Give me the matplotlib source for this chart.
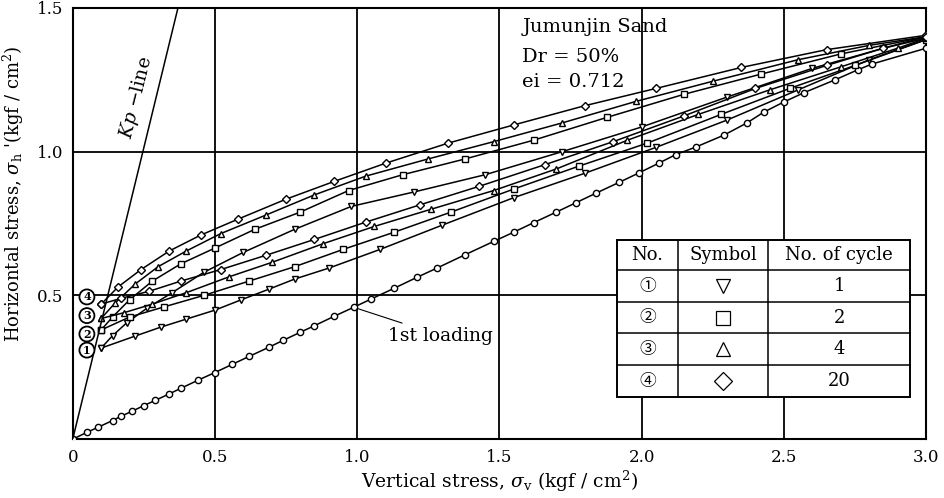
import matplotlib.pyplot as plt
from matplotlib.patches import Rectangle

plt.rcParams['font.family'] = ['DejaVu Serif']
plt.rcParams['mathtext.fontset'] = 'dejavuserif'

# first loading branch
load_x = [0, 0.05, 0.09, 0.14, 0.17, 0.21, 0.25, 0.29, 0.34, 0.38, 0.44, 0.50, 0.56,
          0.62, 0.69, 0.74, 0.80, 0.85, 0.92, 0.99, 1.05, 1.13, 1.21, 1.28, 1.38, 1.48,
          1.55, 1.62, 1.70, 1.77, 1.84, 1.92, 1.99, 2.06, 2.12, 2.19, 2.29, 2.37, 2.43,
          2.50, 2.57, 2.68, 2.76, 2.81, 3.0]
load_y = [0, 0.024, 0.042, 0.065, 0.08, 0.098, 0.117, 0.135, 0.158, 0.177, 0.205, 0.232,
          0.26, 0.288, 0.32, 0.344, 0.372, 0.395, 0.428, 0.46, 0.488, 0.525, 0.563, 0.595,
          0.642, 0.688, 0.72, 0.753, 0.79, 0.823, 0.856, 0.893, 0.926, 0.96, 0.99, 1.016,
          1.058, 1.10, 1.138, 1.173, 1.205, 1.25, 1.285, 1.305, 1.36]

# cycle 1
unload_1_x = [0.10, 0.14, 0.19, 0.26, 0.35, 0.46, 0.60, 0.78, 0.98, 1.20, 1.45, 1.72, 2.00, 2.30, 2.60, 2.85, 3.00]
unload_1_y = [0.317, 0.36, 0.405, 0.455, 0.51, 0.58, 0.65, 0.73, 0.81, 0.86, 0.92, 1.00, 1.086, 1.19, 1.29, 1.36, 1.395]
reload_1_x = [0.10, 0.22, 0.31, 0.40, 0.50, 0.59, 0.69, 0.78, 0.90, 1.08, 1.30, 1.55, 1.80, 2.05, 2.30, 2.55, 2.80, 3.00]
reload_1_y = [0.317, 0.359, 0.39, 0.418, 0.449, 0.484, 0.522, 0.557, 0.595, 0.66, 0.745, 0.84, 0.925, 1.015, 1.11, 1.215, 1.32, 1.39]

# cycle 2
unload_2_x = [0.10, 0.14, 0.20, 0.28, 0.38, 0.50, 0.64, 0.80, 0.97, 1.16, 1.38, 1.62, 1.88, 2.15, 2.42, 2.70, 3.00]
unload_2_y = [0.38, 0.425, 0.485, 0.55, 0.61, 0.665, 0.73, 0.79, 0.865, 0.92, 0.975, 1.04, 1.12, 1.20, 1.27, 1.34, 1.40]
reload_2_x = [0.10, 0.20, 0.32, 0.46, 0.62, 0.78, 0.95, 1.13, 1.33, 1.55, 1.78, 2.02, 2.28, 2.52, 2.75, 3.00]
reload_2_y = [0.38, 0.425, 0.46, 0.50, 0.55, 0.60, 0.66, 0.72, 0.79, 0.87, 0.95, 1.03, 1.13, 1.22, 1.30, 1.39]

# cycle 4
unload_4_x = [0.10, 0.15, 0.22, 0.30, 0.40, 0.52, 0.68, 0.85, 1.03, 1.25, 1.48, 1.72, 1.98, 2.25, 2.55, 2.80, 3.00]
unload_4_y = [0.42, 0.475, 0.54, 0.60, 0.655, 0.715, 0.78, 0.85, 0.915, 0.975, 1.035, 1.10, 1.175, 1.245, 1.32, 1.37, 1.40]
reload_4_x = [0.10, 0.18, 0.28, 0.40, 0.55, 0.70, 0.88, 1.06, 1.26, 1.48, 1.70, 1.95, 2.20, 2.45, 2.70, 2.90, 3.00]
reload_4_y = [0.42, 0.44, 0.47, 0.51, 0.565, 0.615, 0.68, 0.74, 0.80, 0.865, 0.94, 1.04, 1.13, 1.215, 1.295, 1.36, 1.395]

# cycle 20
unload_20_x = [0.10, 0.16, 0.24, 0.34, 0.45, 0.58, 0.75, 0.92, 1.10, 1.32, 1.55, 1.80, 2.05, 2.35, 2.65, 3.00]
unload_20_y = [0.47, 0.53, 0.59, 0.655, 0.71, 0.765, 0.835, 0.897, 0.96, 1.03, 1.093, 1.16, 1.22, 1.293, 1.355, 1.405]
reload_20_x = [0.10, 0.17, 0.27, 0.38, 0.52, 0.68, 0.85, 1.03, 1.22, 1.43, 1.66, 1.90, 2.15, 2.40, 2.65, 2.85, 3.00]
reload_20_y = [0.47, 0.49, 0.515, 0.55, 0.59, 0.64, 0.695, 0.755, 0.815, 0.88, 0.955, 1.035, 1.125, 1.22, 1.30, 1.36, 1.40]

# Kp line
kp_x = [0, 0.37]
kp_y = [0, 1.5]

# table contents
table_no = ['①', '②', '③', '④']
table_markers = ['v', 's', '^', 'D']
table_cycles = ['1', '2', '4', '20']
start_labels = ['1', '2', '3', '4']
start_label_y = [0.31, 0.366, 0.43, 0.495]

x_ticks = [0, 0.5, 1.0, 1.5, 2.0, 2.5, 3.0]
x_ticklabels = ['0', '0.5', '1.0', '1.5', '2.0', '2.5', '3.0']
y_ticks = [0.5, 1.0, 1.5]
y_ticklabels = ['0.5', '1.0', '1.5']

fig = plt.figure(figsize=(9.44, 4.98), dpi=100)
ax = fig.add_axes([0.077, 0.118, 0.904, 0.866])

line_kw = dict(color='black', lw=1.1, ms=4.5, mfc='white', mec='black', mew=1.0, zorder=3)

ax.plot(load_x, load_y, marker='o', **line_kw)

branches = [
    (unload_1_x, unload_1_y, reload_1_x, reload_1_y, 'v'),
    (unload_2_x, unload_2_y, reload_2_x, reload_2_y, 's'),
    (unload_4_x, unload_4_y, reload_4_x, reload_4_y, '^'),
    (unload_20_x, unload_20_y, reload_20_x, reload_20_y, 'D'),
]
for ux, uy, rx, ry, m in branches:
    ms = 3.6 if m == 'D' else 4.5
    kw = dict(line_kw, ms=ms)
    ax.plot(ux, uy, marker=m, **kw)
    ax.plot(rx, ry, marker=m, **kw)

ax.plot(kp_x, kp_y, color='black', lw=1.1, zorder=3)
ax.text(0.225, 1.19, r'$Kp$ $-$line', rotation=76, ha='center', va='center', fontsize=13.5)

# circled start-point labels
for lab, yy in zip(start_labels, start_label_y):
    ax.text(0.05, yy, lab, ha='center', va='center', fontsize=8, fontweight='bold',
            bbox=dict(boxstyle='circle,pad=0.18', fc='white', ec='black', lw=1.3), zorder=6)

ax.annotate('1st loading', xy=(1.0, 0.455), xytext=(1.11, 0.36), fontsize=13.5,
            ha='left', va='center',
            arrowprops=dict(arrowstyle='-', lw=0.8, color='black', shrinkA=2, shrinkB=0))

ax.text(1.58, 1.434, 'Jumunjin Sand', fontsize=14, ha='left', va='center')
ax.text(1.58, 1.33, 'Dr = 50%', fontsize=14, ha='left', va='center')
ax.text(1.58, 1.243, 'ei = 0.712', fontsize=14, ha='left', va='center')

# table of symbols
col_edges = [0.638, 0.709, 0.815, 0.981]
row_edges = [0.462, 0.392, 0.318, 0.246, 0.172, 0.097]
ax.add_patch(Rectangle((col_edges[0], row_edges[-1]), col_edges[-1] - col_edges[0],
                       row_edges[0] - row_edges[-1], transform=ax.transAxes,
                       fc='white', ec='black', lw=1.4, zorder=5))
for c in col_edges[1:-1]:
    ax.plot([c, c], [row_edges[-1], row_edges[0]], transform=ax.transAxes,
            color='black', lw=1.1, zorder=6)
for r in row_edges[1:-1]:
    ax.plot([col_edges[0], col_edges[-1]], [r, r], transform=ax.transAxes,
            color='black', lw=1.1, zorder=6)

col_mid = [(col_edges[i] + col_edges[i + 1]) / 2 for i in range(3)]
row_mid = [(row_edges[i] + row_edges[i + 1]) / 2 for i in range(5)]
for txt, cx in zip(['No.', 'Symbol', 'No. of cycle'], col_mid):
    ax.text(cx, row_mid[0], txt, transform=ax.transAxes, ha='center', va='center',
            fontsize=13, zorder=7)
for i in range(4):
    ry = row_mid[i + 1]
    ax.text(col_mid[0], ry, table_no[i], transform=ax.transAxes, ha='center', va='center',
            fontsize=12, family=['Noto Sans CJK JP', 'DejaVu Sans'], zorder=7)
    ax.plot(col_mid[1], ry, marker=table_markers[i], ms=10 if table_markers[i] != 'D' else 9,
            mfc='white', mec='black', mew=0.9, transform=ax.transAxes, zorder=7)
    ax.text(col_mid[2], ry, table_cycles[i], transform=ax.transAxes, ha='center', va='center',
            fontsize=13, zorder=7)

ax.set_xlim(0, 3.0)
ax.set_ylim(0, 1.5)
ax.set_xticks(x_ticks)
ax.set_xticklabels(x_ticklabels)
ax.set_yticks(y_ticks)
ax.set_yticklabels(y_ticklabels)
ax.tick_params(length=0, labelsize=12, pad=7)
ax.grid(True, color='black', lw=1.3)
ax.set_axisbelow(True)
for s in ax.spines.values():
    s.set_linewidth(1.5)

ax.set_xlabel(r'Vertical stress, $\sigma_{\rm v}$ (kgf / cm$^2$)', fontsize=13.5, labelpad=2)
ax.set_ylabel(r"Horizontal stress, $\sigma_{\rm h}$ '(kgf / cm$^2$)", fontsize=13)
ax.yaxis.set_label_coords(-0.055, 0.57)

fig.savefig('out.png', dpi=100)
